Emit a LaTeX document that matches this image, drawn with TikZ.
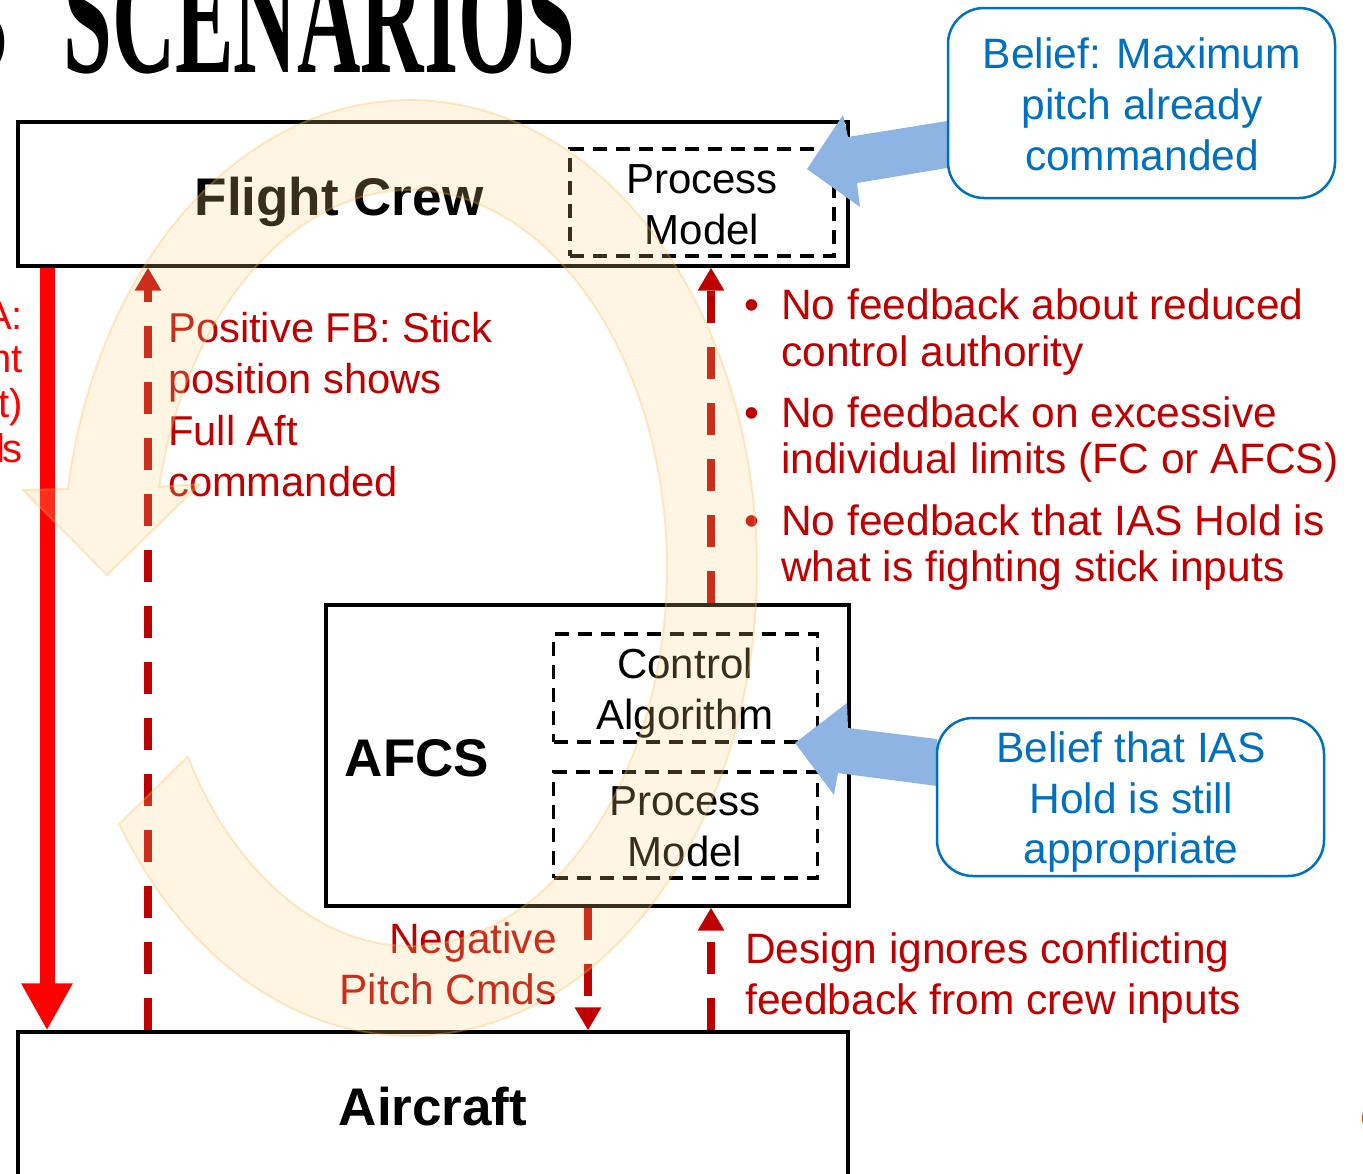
\documentclass[tikz,border=0pt]{standalone}
\usepackage{fontspec}
\setmainfont{Liberation Sans}
\newfontfamily\titlefont{Liberation Serif}
\usetikzlibrary{arrows.meta}
\definecolor{dkred}{HTML}{C00000}
\definecolor{brred}{HTML}{FF0000}
\definecolor{cblue}{HTML}{0070C0}
\definecolor{ablue}{HTML}{8EB4E3}
\definecolor{ringfill}{HTML}{FFD280}
\definecolor{ringline}{HTML}{FFB84D}
\definecolor{logored}{HTML}{C8461E}
% unit normal length helper for the offset ellipse band
\newcommand\ringnorm{sqrt((1.4007*cos(\x))^2+(sin(\x))^2)}
\tikzset{
  box/.style={draw=black, line width=3.2pt, inner sep=0pt},
  dbox/.style={draw=black, line width=3.5pt, dash pattern=on 14pt off 9pt, inner sep=0pt},
  ln/.style={inner sep=0pt, anchor=base, font=\fontsize{42}{50}\selectfont},
  hdr/.style={inner sep=0pt, anchor=base, font=\fontsize{53}{60}\selectfont\bfseries},
  rtxt/.style={inner sep=0pt, text=dkred, font=\fontsize{42.5}{50}\selectfont},
  pftxt/.style={rtxt, anchor=base west, font=\fontsize{41.7}{50}\selectfont},
  btxt/.style={inner sep=0pt, anchor=base, text=cblue, font=\fontsize{42.5}{50}\selectfont},
  edgetxt/.style={inner sep=0pt, anchor=base east, text=brred, font=\fontsize{40}{48}\selectfont},
  callout/.style={draw=cblue, line width=2.5pt, rounded corners=36pt, inner sep=0pt},
  redash/.style={dkred, line width=8.5pt, dash pattern=on 32pt off 24pt,
                 -{Triangle[width=25pt,length=23pt]}},
  ring/.style={fill=ringfill, fill opacity=0.22, draw=ringline, draw opacity=0.3, line width=2pt},
}
\begin{document}
\begin{tikzpicture}[x=1pt, y=-1pt]
\fill[white] (0,0) rectangle (1363,1173);
\useasboundingbox (0,0) rectangle (1363,1173);

% title
\node[anchor=south west, inner sep=0pt] (title) at (63,74)
  {\resizebox{512pt}{110pt}{\titlefont\bfseries SCENARIOS}};
\node[anchor=south east, inner sep=0pt] (titlenum) at (9,74)
  {\resizebox{55pt}{110pt}{\titlefont\bfseries 3}};

% controller and process boxes
\node[box, minimum width=830pt, minimum height=144pt] (crew) at (433,194) {};
\node[dbox, minimum width=264pt, minimum height=107pt] (crewpm) at (702,202.5) {};
\node[box, minimum width=523pt, minimum height=301pt] (afcs) at (587.5,755.5) {};
\node[dbox, minimum width=264pt, minimum height=108pt] (ctrl) at (685.5,688) {};
\node[dbox, minimum width=264pt, minimum height=106pt] (afcspm) at (685.5,825) {};
\node[box, minimum width=830pt, minimum height=160pt] (plane) at (433,1112) {};

\node[hdr] (crewlbl) at (339,215) {Flight Crew};
\node[ln] (crewpm1) at (702,193) {Process};
\node[ln] (crewpm2) at (702,244) {Model};
\node[hdr] (afcslbl) at (417,776) {AFCS};
\node[ln] (ca1) at (685,678) {Control};
\node[ln] (ca2) at (685,729) {Algorithm};
\node[ln] (apm1) at (685,815) {Process};
\node[ln] (apm2) at (685,866) {Model};
\node[hdr] (planelbl) at (433,1125) {Aircraft};

% control and feedback paths
\coordinate (xa) at (47,0);
\coordinate (xb) at (148,0);
\coordinate (xc) at (711,0);
\coordinate (xd) at (588,0);
\draw[brred, line width=15pt, -{Triangle[width=48pt,length=47pt]}]
  (crew.south -| xa) -- (plane.north -| xa);
\draw[redash] (plane.north -| xb) -- (crew.south -| xb);
\draw[redash] (afcs.north -| xc) -- (crew.south -| xc);
\draw[redash] (afcs.south -| xd) -- (plane.north -| xd);
\draw[redash] (plane.north -| xc) -- (afcs.south -| xc);

% left-edge annotation
\node[edgetxt] (e1) at (23,329) {A:};
\node[edgetxt] (e2) at (23,372) {nt};
\node[edgetxt] (e3) at (23,417) {ft)};
\node[edgetxt] (e4) at (23,462) {l\kern-3pt s};

% feedback annotations
\node[pftxt] (pf1) at (168,342) {Positive FB: Stick};
\node[pftxt] (pf2) at (168,393.5) {position shows};
\node[pftxt] (pf3) at (168,445) {Full Aft};
\node[pftxt] (pf4) at (168,496.5) {commanded};

\node[rtxt, anchor=base] (bu1) at (752,319) {•};
\node[rtxt, anchor=base west] (n1a) at (781,319) {No feedback about reduced};
\node[rtxt, anchor=base west] (n1b) at (781,366) {control authority};
\node[rtxt, anchor=base] (bu2) at (752,427) {•};
\node[rtxt, anchor=base west] (n2a) at (781,427) {No feedback on excessive};
\node[rtxt, anchor=base west] (n2b) at (781,473) {individual limits (FC or AFCS)};
\node[rtxt, anchor=base] (bu3) at (752,535) {•};
\node[rtxt, anchor=base west] (n3a) at (781,535) {No feedback that IAS Hold is};
\node[rtxt, anchor=base west] (n3b) at (781,581) {what is fighting stick inputs};

\node[rtxt, anchor=base east] (ng1) at (557,953) {Negative};
\node[rtxt, anchor=base east] (ng2) at (557,1004) {Pitch Cmds};
\node[rtxt, anchor=base west] (dg1) at (745,963) {Design ignores conflicting};
\node[rtxt, anchor=base west] (dg2) at (745,1014) {feedback from crew inputs};

% belief block arrows
\fill[ablue] (947,121) -- (848,137) -- (843,115) -- (807,169) -- (860,207) -- (857,183) -- (947,168) -- cycle;
\fill[ablue] (937,739) -- (848,728) -- (847,703) -- (795,743) -- (834,795) -- (838,773) -- (937,786) -- cycle;

% belief callouts
\node[callout, minimum width=387pt, minimum height=190pt] (bel1) at (1141.5,103) {};
\node[btxt] (b1a) at (1142,68) {Belief: Maximum};
\node[btxt] (b1b) at (1142,119) {pitch already};
\node[btxt] (b1c) at (1142,170) {commanded};
\node[callout, minimum width=387pt, minimum height=158pt] (bel2) at (1130.5,797) {};
\node[btxt] (b2a) at (1131,762) {Belief that IAS};
\node[btxt] (b2b) at (1131,813) {Hold is still};
\node[btxt] (b2c) at (1131,863) {appropriate};

% mark at the right edge
\fill[logored] (1373,1118) ellipse [x radius=11pt, y radius=15pt];

% translucent circular loop arrow
\draw[ring] (107,575) -- (23,490)
  -- plot[domain=190:506, samples=160]
     ({410+302*cos(\x)+63.03*cos(\x)/\ringnorm}, {568+423*sin(\x)+45*sin(\x)/\ringnorm})
  -- plot[domain=511:192, samples=160]
     ({410+302*cos(\x)-63.03*cos(\x)/\ringnorm}, {568+423*sin(\x)-45*sin(\x)/\ringnorm})
  -- (200,484) -- cycle;
\end{tikzpicture}
\end{document}
